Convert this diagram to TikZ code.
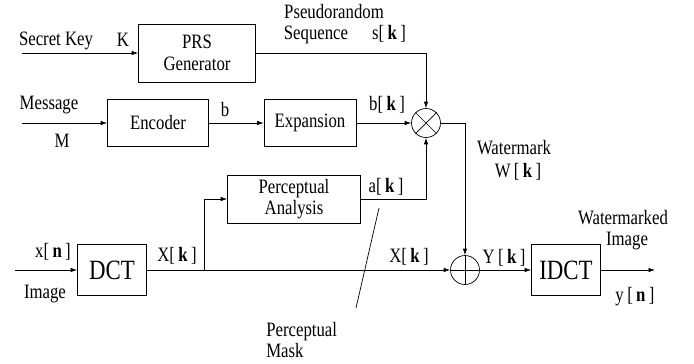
\documentclass[tikz,border=0pt]{standalone}
\usepackage{fontspec}
\setmainfont{Liberation Serif}[FakeStretch=0.82]
\usepackage{tikz}
\usetikzlibrary{arrows.meta,positioning,calc}

\begin{document}
\begin{tikzpicture}[
  x=1bp,y=-1bp,
  font=\fontsize{20.5}{21.5}\selectfont,
  line width=0.7bp,
  box/.style={draw,align=center,inner sep=0pt},
  big/.style={box,font=\fontsize{28}{29}\selectfont},
  sum/.style={draw,circle,minimum size=29bp,inner sep=0pt},
  lbl/.style={inner sep=0pt,align=center},
  arr/.style={-{Latex[length=6.5bp,width=4.5bp]}},
]
\useasboundingbox (0,0) rectangle (694,363);
% blocks
\node[box,minimum width=117bp,minimum height=58bp] (prs) at (197,53) {PRS\\Generator};
\node[box,minimum width=101bp,minimum height=47bp] (enc) at (158,123) {Encoder};
\node[box,minimum width=92bp,minimum height=47bp] (exp) at (310,123) {Expansion};
\node[box,minimum width=133bp,minimum height=48bp] (pa) at (294,199) {Perceptual\\Analysis};
\node[big,minimum width=69bp,minimum height=51bp] (dct) at (112,270) {DCT};
\node[big,minimum width=69bp,minimum height=51bp] (idct) at (566,270) {IDCT};
\node[sum] (mult) at (426,123) {};
\node[sum] (add) at (465,270) {};
\draw (mult.north west) -- (mult.south east) (mult.north east) -- (mult.south west);
\draw (add.north) -- (add.south) (add.west) -- (add.east);
% free ends
\coordinate (keyin) at (22,53);
\coordinate (msgin) at (22,123);
\coordinate (imgin) at (15,270);
\coordinate (imgout) at (655,270);
\coordinate (br) at (204,270);
\coordinate (maskt) at (379,208);
\coordinate (maskb) at (356,308);
% labels
\node[lbl] (keyl) at (56,41) {Secret Key};
\node[lbl] (kl) at (123,40) {K};
\node[lbl] (msgl) at (49,105) {Message};
\node[lbl] (ml) at (62,141) {M};
\node[lbl] (bl) at (225,110) {b};
\node[lbl] (prsl) at (334,12) {Pseudorandom};
\node[lbl] (seql) at (316,35) {Sequence};
\node[lbl] (sl) at (389,34) {s[\,\textbf{k}\,]};
\node[lbl] (bkl) at (387,105) {b[\,\textbf{k}\,]};
\node[lbl] (wml) at (514,148) {Watermark};
\node[lbl] (wl) at (518,172) {W\,[\,\textbf{k}\,]};
\node[lbl] (al) at (386,187) {a[\,\textbf{k}\,]};
\node[lbl] (xnl) at (53,252) {x[\,\textbf{n}\,]};
\node[lbl] (imgl) at (45,294) {Image};
\node[lbl] (xkl) at (177,256) {X[\,\textbf{k}\,]};
\node[lbl] (xk2l) at (409,257) {X[\,\textbf{k}\,]};
\node[lbl] (yl) at (504,258) {Y\,[\,\textbf{k}\,]};
\node[lbl] (wmdl) at (623,218) {Watermarked};
\node[lbl] (img2l) at (627,241) {Image};
\node[lbl] (ynl) at (635,297) {y\,[\,\textbf{n}\,]};
\node[lbl,align=left,anchor=west] (maskl) at (266,340) {Perceptual\\Mask};
% connectors
\draw[arr] (keyin) -- (prs);
\draw[arr] (msgin) -- (enc);
\draw[arr] (enc) -- (exp);
\draw[arr] (exp) -- (mult);
\draw[arr] (prs.east) -| (mult.north);
\draw[arr] (pa.east) -| (mult.south);
\draw[arr] (mult.east) -| (add.north);
\draw[arr] (imgin) -- (dct);
\draw[arr] (dct.east) -- (add.west);
\draw[arr] (br) |- (pa.west);
\draw[arr] (add) -- (idct);
\draw[arr] (idct) -- (imgout);
\draw (maskt) -- (maskb);
\end{tikzpicture}
\end{document}
